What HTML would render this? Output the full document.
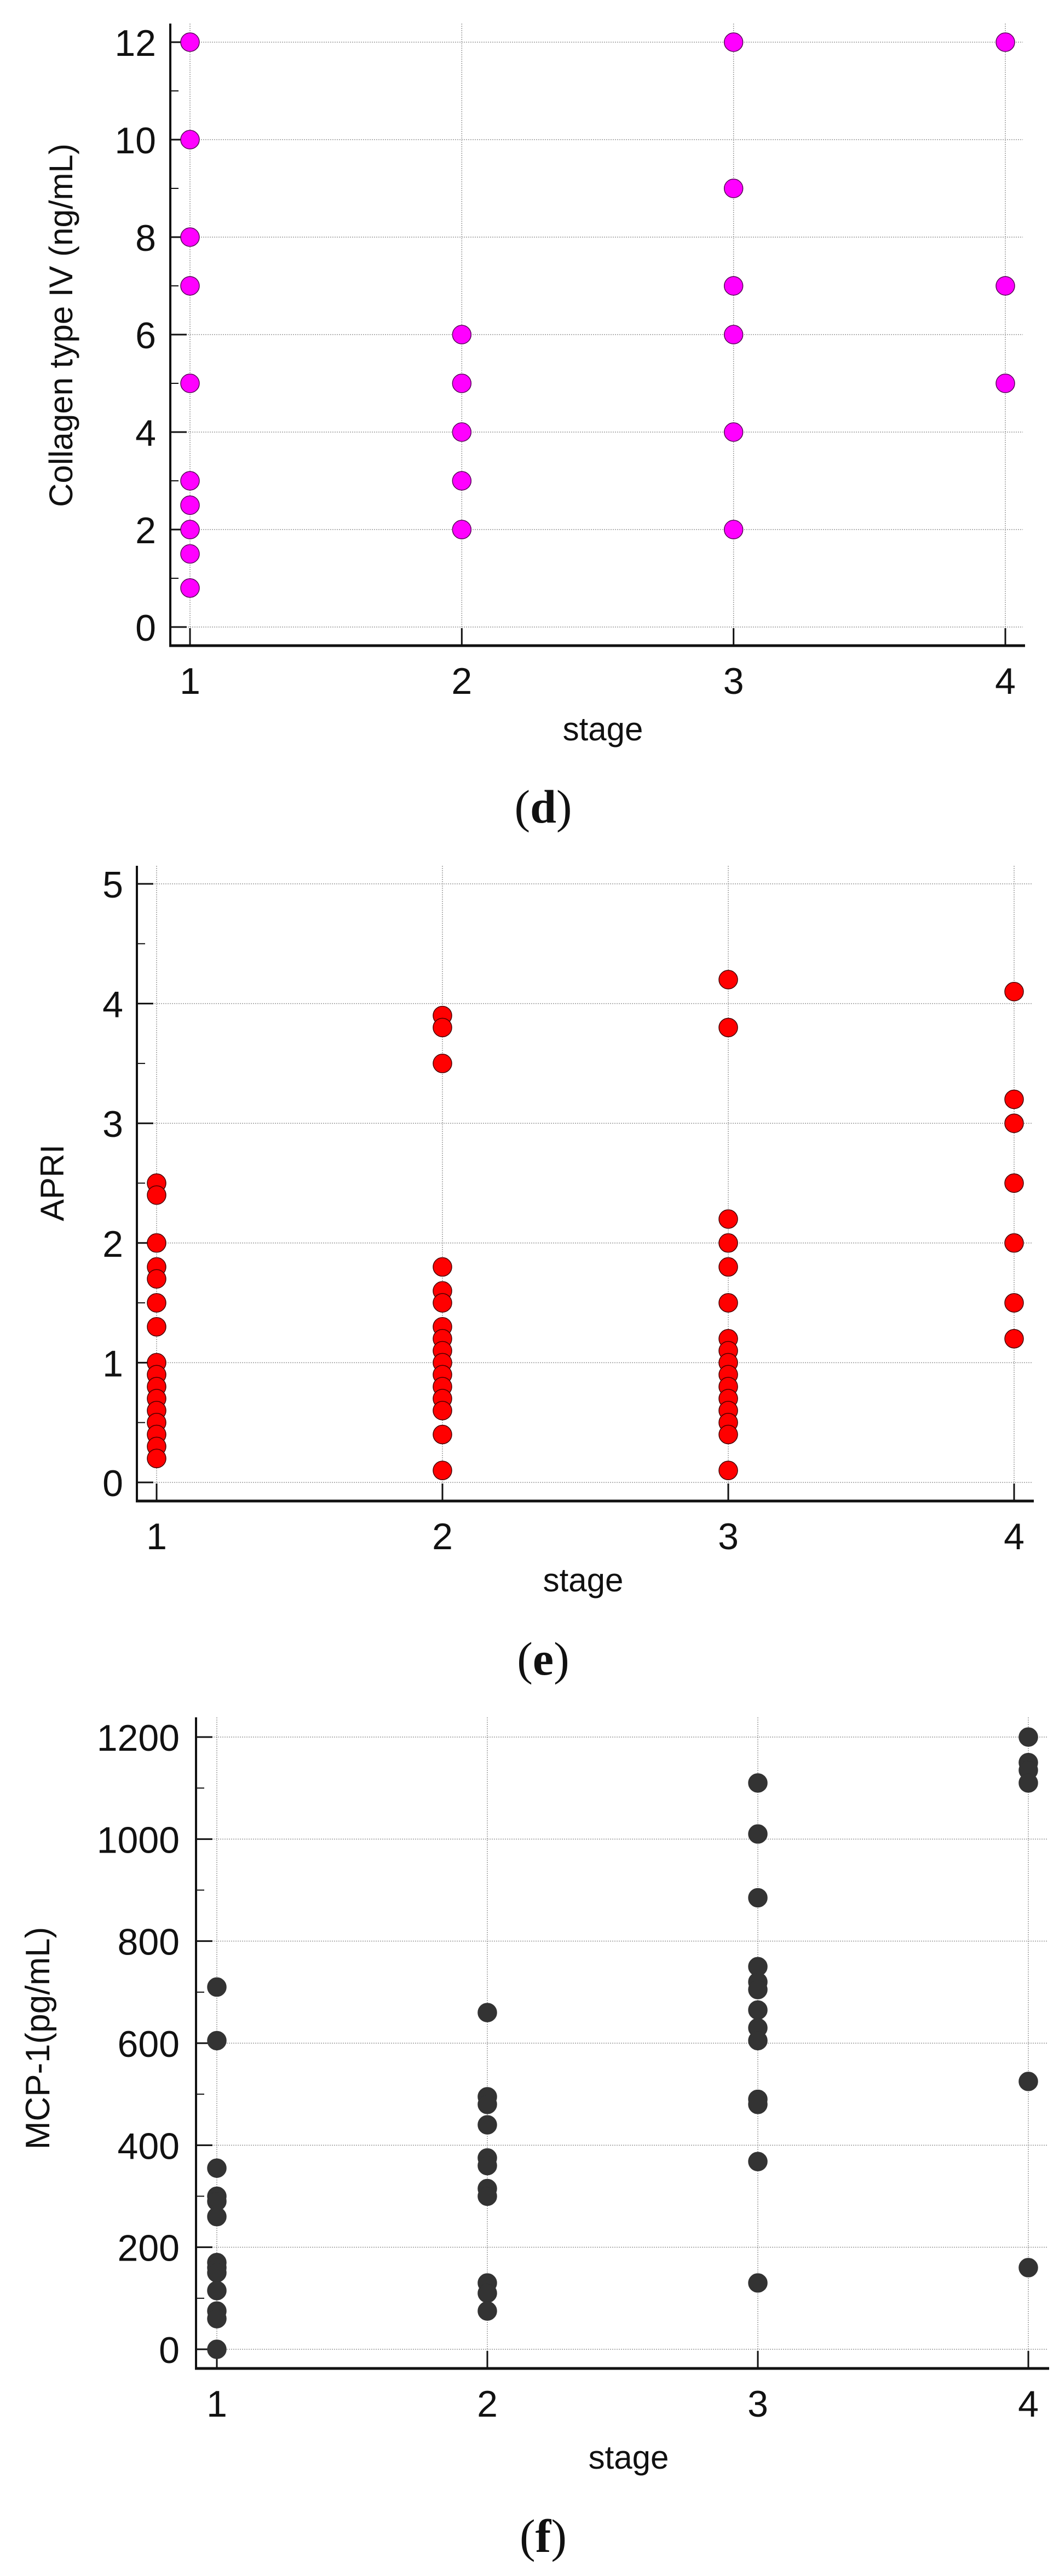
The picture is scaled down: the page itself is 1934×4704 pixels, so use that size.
<!DOCTYPE html>
<html><head><meta charset="utf-8">
<style>
html,body{margin:0;padding:0;background:#fff;}
svg{display:block;}
text{font-family:"Liberation Sans",Arial,sans-serif;fill:#111;}
.cap{font-family:"Liberation Serif",serif;}
</style></head>
<body>
<svg id="fig" width="1934" height="4704" viewBox="0 0 1934 4704" xmlns="http://www.w3.org/2000/svg"></svg>
<script>
// ---- Panel d data ----
const dStages = [1, 2, 3, 4];
const dStage1 = [12, 10, 8, 7, 5, 3, 2.5, 2, 1.5, 0.8];
const dStage2 = [6, 5, 4, 3, 2];
const dStage3 = [12, 9, 7, 6, 4, 2];
const dStage4 = [12, 7, 5];
const dYTicks = [0, 2, 4, 6, 8, 10, 12];
// ---- Panel e data ----
const eStages = [1, 2, 3, 4];
const eStage1 = [2.5, 2.4, 2.0, 1.8, 1.7, 1.5, 1.3, 1.0, 0.9, 0.8, 0.7, 0.6, 0.5, 0.4, 0.3, 0.2];
const eStage2 = [3.9, 3.8, 3.5, 1.8, 1.6, 1.5, 1.3, 1.2, 1.1, 1.0, 0.9, 0.8, 0.7, 0.6, 0.4, 0.1];
const eStage3 = [4.2, 3.8, 2.2, 2.0, 1.8, 1.5, 1.2, 1.1, 1.0, 0.9, 0.8, 0.7, 0.6, 0.5, 0.4, 0.1];
const eStage4 = [4.1, 3.2, 3.0, 2.5, 2.0, 1.5, 1.2];
const eYTicks = [0, 1, 2, 3, 4, 5];
// ---- Panel f data ----
const fStages = [1, 2, 3, 4];
const fStage1 = [710, 605, 355, 300, 290, 260, 170, 160, 150, 115, 75, 60, 0];
const fStage2 = [660, 495, 480, 440, 375, 360, 315, 300, 130, 110, 75];
const fStage3 = [1110, 1010, 885, 750, 720, 705, 665, 630, 605, 490, 480, 368, 130];
const fStage4 = [1200, 1150, 1135, 1110, 525, 160];
const fYTicks = [0, 200, 400, 600, 800, 1000, 1200];

const NS = "http://www.w3.org/2000/svg";
const svg = document.getElementById('fig');
function mk(tag, attrs, parent) {
  const e = document.createElementNS(NS, tag);
  for (const k in attrs) e.setAttribute(k, attrs[k]);
  (parent || svg).appendChild(e);
  return e;
}

function panel(p) {
  const g = mk('g', {});
  
  
  const xs = v => p.x1 + (v - 1) * (p.x4 - p.x1) / 3;
  const ys = v => p.y0 - (v - p.ymin) * (p.y0 - p.ytop) / (p.ymax - p.ymin);
  p.yTicks.forEach(t => {
    const l = mk('line', {x1: p.ax, x2: p.right, y1: ys(t), y2: ys(t), stroke: '#9a9a9a', 'stroke-width': 1.5, 'stroke-dasharray': '2,2'}, g);
    
    
  });
  p.stages.forEach(s => {
    const l = mk('line', {x1: xs(s), x2: xs(s), y1: p.atop, y2: p.xy, stroke: '#9a9a9a', 'stroke-width': 1.5, 'stroke-dasharray': '2,2'}, g);
    
    
  });
  for (let i = 0; i < p.yTicks.length - 1; i++) {
    const m = (p.yTicks[i] + p.yTicks[i + 1]) / 2;
    const l = mk('line', {x1: p.ax, x2: p.ax + 15, y1: ys(m), y2: ys(m), stroke: '#111', 'stroke-width': 2}, g);
    
    
  }
  p.yTicks.forEach(t => {
    const l = mk('line', {x1: p.ax, x2: p.ax + 30, y1: ys(t), y2: ys(t), stroke: '#111', 'stroke-width': 3}, g);
    
    
    const tx = mk('text', {x: p.lblR, y: ys(t) + 25, 'text-anchor': 'end', 'font-size': 68}, g);
    tx.textContent = t;
    
    
  });
  p.stages.forEach(s => {
    const l = mk('line', {x1: xs(s), x2: xs(s), y1: p.xy, y2: p.xy - 32, stroke: '#111', 'stroke-width': 3}, g);
    
    
    const tx = mk('text', {x: xs(s), y: p.xy + 88, 'text-anchor': 'middle', 'font-size': 68}, g);
    tx.textContent = s;
    
    
  });
  const ya = mk('line', {x1: p.ax, x2: p.ax, y1: p.atop, y2: p.xy + 2, stroke: '#111', 'stroke-width': 4}, g);
  
  
  const xa = mk('line', {x1: p.ax - 2, x2: p.right + 4, y1: p.xy, y2: p.xy, stroke: '#111', 'stroke-width': 5}, g);
  
  
  p.series.forEach((arr, i) => {
    arr.forEach(v => {
      const c = mk('ellipse', {cx: xs(p.stages[i]), cy: ys(v), rx: 17, ry: 17, fill: p.color, stroke: p.stroke, 'stroke-width': 1.5}, g);
      
      
    });
  });
  const yt = mk('text', {x: 0, y: 0, 'text-anchor': 'middle', 'font-size': p.ytSize, transform: `translate(${p.ytX},${p.ytY}) rotate(-90)`}, g);
  yt.textContent = p.ytitle;
  
  
  const xt = mk('text', {x: p.xtX, y: p.xtY, 'text-anchor': 'middle', 'font-size': 60}, g);
  xt.textContent = 'stage';
  
  
  const cp = mk('text', {x: 992, y: p.capY, 'text-anchor': 'middle', 'font-size': 86, 'class': 'cap'}, g);
  cp.innerHTML = '(<tspan font-weight="bold">' + p.cap + '</tspan>)';
  
  
}

panel({name: 'panel-d-collagen', stages: dStages, series: [dStage1, dStage2, dStage3, dStage4], yTicks: dYTicks,
  ymin: 0, ymax: 12, y0: 1145, ytop: 77, x1: 347, x4: 1836, ax: 311, atop: 43, xy: 1179, right: 1868,
  lblR: 285, color: '#ff00ff', stroke: '#5a005a', ytitle: 'Collagen type IV  (ng/mL)', ytSize: 60, ytX: 132, ytY: 594,
  xtX: 1101, xtY: 1352, cap: 'd', capY: 1502});

panel({name: 'panel-e-apri', stages: eStages, series: [eStage1, eStage2, eStage3, eStage4], yTicks: eYTicks,
  ymin: 0, ymax: 5, y0: 2707, ytop: 1614, x1: 286, x4: 1852, ax: 250, atop: 1581, xy: 2741, right: 1884,
  lblR: 225, color: '#ff0000', stroke: '#4a0000', ytitle: 'APRI', ytSize: 60, ytX: 116, ytY: 2160,
  xtX: 1065, xtY: 2906, cap: 'e', capY: 3058});

panel({name: 'panel-f-mcp1', stages: fStages, series: [fStage1, fStage2, fStage3, fStage4], yTicks: fYTicks,
  ymin: 0, ymax: 1200, y0: 4290, ytop: 3172, x1: 396, x4: 1878, ax: 358, atop: 3136, xy: 4325, right: 1912,
  lblR: 328, color: '#333333', stroke: '#333333', ytitle: 'MCP-1(pg/mL)', ytSize: 62, ytX: 90, ytY: 3722,
  xtX: 1148, xtY: 4508, cap: 'f', capY: 4660});
</script>
</body></html>
